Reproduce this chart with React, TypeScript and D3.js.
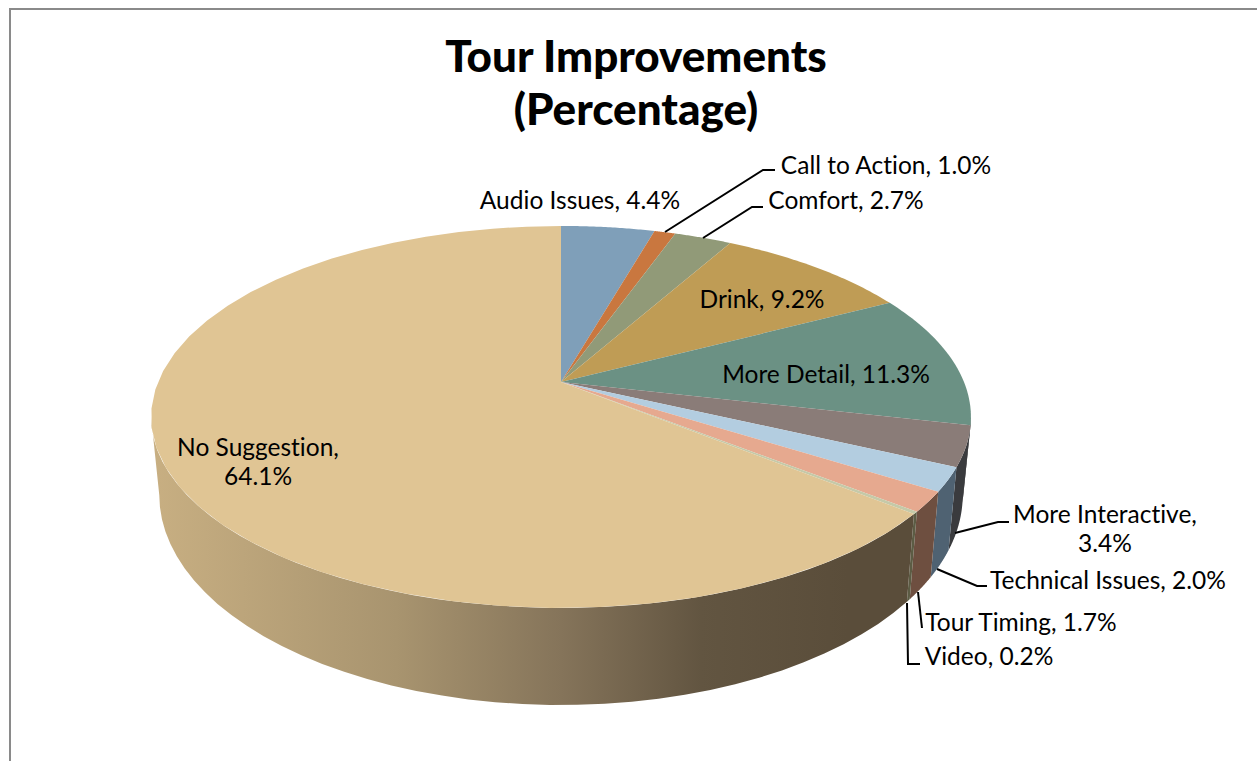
import React from 'react';
import * as d3 from 'd3';

const categories = ['Audio Issues', 'Call to Action', 'Comfort', 'Drink', 'More Detail', 'More Interactive', 'Technical Issues', 'Tour Timing', 'Video', 'No Suggestion'];
const percents = [4.4, 1.0, 2.7, 9.2, 11.3, 3.4, 2.0, 1.7, 0.2, 64.1];
const topColors = ['#7f9fb9', '#c9773f', '#919a78', '#bf9c55', '#6b9184', '#8a7c78', '#b3cde0', '#e6a98f', '#c5c9a8', '#e0c594'];
const wallColors = ['#6f8ba3', '#a8622f', '#7d8568', '#a58748', '#2f2f30', '#3a3b3e', '#4f6272', '#6e4f40', '#5c5c44', '#5a4c38'];
const titleLines = ['Tour Improvements', '(Percentage)'];

const width = 1257;
const height = 761;

// top face is a circle seen in perspective, so the pie centre is not the ellipse centre
const cx = 561;
const cy = 382;
const persp = -0.183;
const faceA = 403;
const faceB = 184.6;
const faceMidY = 417;
const baseMidY = 495;
const baseScaleX = 0.98;
const baseScaleY = 1.1;

const project = (angle: number): [number, number] => {
  const u = Math.sin(angle);
  const v = -Math.cos(angle);
  const d = 1 + persp * v;
  return [cx + (faceA * u) / d, cy + (faceB * v) / d];
};

const projectBase = (angle: number): [number, number] => {
  const [x, y] = project(angle);
  return [cx + (x - cx) * baseScaleX, baseMidY + (y - faceMidY) * baseScaleY];
};

// angles where the rim is at its widest, the wall shows between them
const wallStart = Math.acos(persp);
const wallEnd = 2 * Math.PI - wallStart;

const line = d3.line();
const arcPoints = (a0: number, a1: number, fn: (a: number) => [number, number]) =>
  d3.range(0, 41).map(i => fn(a0 + ((a1 - a0) * i) / 40));

const labels = [
  { i: 0, lines: ['Audio Issues, 4.4%'], x: 580, y: 209 },
  { i: 1, lines: ['Call to Action, 1.0%'], x: 886, y: 174, leader: [[665, 232], [763, 170], [775, 170]] },
  { i: 2, lines: ['Comfort, 2.7%'], x: 846, y: 209, leader: [[703, 238], [752, 207], [763, 207]] },
  { i: 3, lines: ['Drink, 9.2%'], x: 762, y: 308 },
  { i: 4, lines: ['More Detail, 11.3%'], x: 826, y: 383 },
  { i: 5, lines: ['More Interactive,', '3.4%'], x: 1105, y: 523, leader: [[955, 533], [998, 522], [1009, 522]] },
  { i: 6, lines: ['Technical Issues, 2.0%'], x: 1108, y: 589, leader: [[937, 569], [977, 586], [987, 586]] },
  { i: 7, lines: ['Tour Timing, 1.7%'], x: 1021, y: 631, leader: [[918, 592], [922, 628]] },
  { i: 8, lines: ['Video, 0.2%'], x: 989, y: 665, leader: [[907, 603], [908, 664], [920, 664]] },
  { i: 9, lines: ['No Suggestion,', '64.1%'], x: 258, y: 456 },
];

export default function App() {
  const slices = d3.pie<number>().sort(null).value(d => d)(percents);

  return (
    <svg width={width} height={height} style={{ position: 'absolute', left: 0, top: 0, fontVariantLigatures: 'none' }}>
      <defs>
        <linearGradient id="wallShade" gradientUnits="userSpaceOnUse" x1={151} x2={971} y1={0} y2={0}>
          <stop offset="0" stopColor="#c8af82" />
          <stop offset="0.3" stopColor="#a8946f" />
          <stop offset="0.5" stopColor="#85745a" />
          <stop offset="0.67" stopColor="#625541" />
          <stop offset="0.85" stopColor="#5a4d3a" />
        </linearGradient>
      </defs>
      <rect x={0} y={0} width={width} height={height} fill="#fff" />
      <path d={`M10,${height}V9H${width}`} fill="none" stroke="#8a8a8a" strokeWidth={2} />

      {/* visible wall: only the part of each slice on the front side */}
      {slices.map((s, i) => {
        const a0 = Math.max(s.startAngle, wallStart);
        const a1 = Math.min(s.endAngle, wallEnd);
        if (a1 <= a0) return null;
        const pts = [...arcPoints(a0, a1, project), ...arcPoints(a1, a0, projectBase)];
        return <path key={categories[i]} d={line(pts) + 'Z'} fill={i === 9 ? 'url(#wallShade)' : wallColors[i]} />;
      })}

      {slices.map((s, i) => (
        <path
          key={categories[i]}
          d={line([[cx, cy], ...arcPoints(s.startAngle, s.endAngle, project)]) + 'Z'}
          fill={topColors[i]}
        />
      ))}

      <g fontFamily="Lato, sans-serif" fontWeight="900" fontSize={44} textAnchor="middle" fill="#000">
        {titleLines.map((t, i) => (
          <text key={t} x={636} y={72 + i * 53}>{t}</text>
        ))}
      </g>

      {labels.map(l => (
        <g key={categories[l.i]}>
          {l.leader && <path d={line(l.leader as [number, number][])!} fill="none" stroke="#000" strokeWidth={2} />}
          {l.lines.map((t, j) => (
            <text key={t} x={l.x} y={l.y + j * 29} fontFamily="Lato, sans-serif" fontSize={24.5} textAnchor="middle" fill="#000">{t}</text>
          ))}
        </g>
      ))}
    </svg>
  );
}
